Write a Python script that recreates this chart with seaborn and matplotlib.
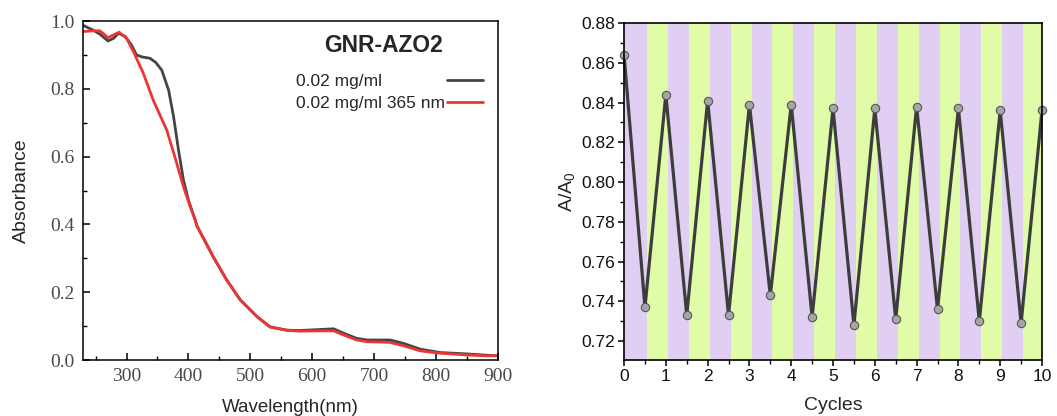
import numpy as np
import pandas as pd
import matplotlib
matplotlib.use("Agg")
import matplotlib.pyplot as plt
from matplotlib.ticker import MultipleLocator, FormatStrFormatter
import seaborn as sns

# --- UV-vis spectra of GNR-AZO2 (0.02 mg/ml), before and after 365 nm irradiation ---
wl_dark = [230, 246, 257, 270, 279, 287, 298, 308, 316, 325, 338, 347, 357, 368,
           376, 384, 392, 400, 411, 414, 440, 462, 484, 511, 532, 559, 580, 613,
           635, 651, 672, 689, 726, 748, 775, 807, 850, 900]
abs_dark = [0.987, 0.973, 0.961, 0.941, 0.949, 0.964, 0.954, 0.929, 0.900, 0.894,
            0.890, 0.878, 0.855, 0.796, 0.718, 0.619, 0.531, 0.472, 0.413, 0.395,
            0.305, 0.236, 0.177, 0.128, 0.098, 0.088, 0.087, 0.090, 0.092, 0.079,
            0.064, 0.059, 0.059, 0.049, 0.032, 0.022, 0.018, 0.012]

wl_uv = [230, 246, 257, 270, 288, 300, 311, 327, 343, 365, 378, 392, 403, 411,
         414, 440, 462, 484, 511, 532, 559, 580, 613, 635, 651, 672, 689, 726,
         748, 775, 807, 850, 883, 900]
abs_uv = [0.969, 0.971, 0.971, 0.951, 0.967, 0.949, 0.910, 0.846, 0.767, 0.678,
          0.600, 0.511, 0.452, 0.413, 0.395, 0.305, 0.236, 0.177, 0.128, 0.097,
          0.088, 0.085, 0.086, 0.086, 0.074, 0.059, 0.054, 0.052, 0.042, 0.027,
          0.020, 0.015, 0.012, 0.013]

series_names = ["0.02 mg/ml", "0.02 mg/ml 365 nm"]
series_colors = ["#444444", "#ee3535"]

# --- switching cycles: A/A0 after alternating irradiation ---
cycles = [0, 0.5, 1, 1.5, 2, 2.5, 3, 3.5, 4, 4.5, 5, 5.5, 6, 6.5, 7, 7.5, 8, 8.5,
          9, 9.5, 10]
ratio = [0.864, 0.737, 0.844, 0.733, 0.841, 0.733, 0.839, 0.743, 0.839, 0.732,
         0.837, 0.728, 0.837, 0.731, 0.838, 0.736, 0.837, 0.730, 0.836, 0.729,
         0.836]
stripe_edges = [0, 0.55, 1.05, 1.55, 2.05, 2.55, 3.05, 3.55, 4.05, 4.55, 5.05,
                5.55, 6.05, 6.55, 7.05, 7.55, 8.05, 8.55, 9.05, 9.55, 10]
stripe_colors = ["#e0cff2", "#e0fca8"]

sns.set_theme(style="ticks")
plt.rcParams["font.family"] = ["Liberation Sans", "DejaVu Sans"]
plt.rcParams["mathtext.fontset"] = "custom"
plt.rcParams["mathtext.rm"] = "Liberation Sans"
plt.rcParams["mathtext.it"] = "Liberation Sans"
plt.rcParams["mathtext.default"] = "regular"

fig = plt.figure(figsize=(10.57, 4.16), dpi=100)
ax1 = fig.add_axes([0.0788, 0.1346, 0.3919, 0.8149])
ax2 = fig.add_axes([0.5904, 0.1346, 0.3954, 0.8101])

# ---------------- left: spectra ----------------
spec = pd.concat([
    pd.DataFrame({"Wavelength": wl_dark, "Absorbance": abs_dark, "Sample": series_names[0]}),
    pd.DataFrame({"Wavelength": wl_uv, "Absorbance": abs_uv, "Sample": series_names[1]}),
])
sns.lineplot(data=spec, x="Wavelength", y="Absorbance", hue="Sample",
             palette=series_colors, linewidth=2.0, ax=ax1, sort=False, legend=False)
ax1.set_xlim(230, 900)
ax1.set_ylim(0, 1.0)
ax1.xaxis.set_major_locator(MultipleLocator(100))
ax1.xaxis.set_minor_locator(MultipleLocator(50))
ax1.yaxis.set_major_locator(MultipleLocator(0.2))
ax1.yaxis.set_minor_locator(MultipleLocator(0.1))
ax1.yaxis.set_major_formatter(FormatStrFormatter("%.1f"))
ax1.tick_params(axis="both", which="major", direction="in", length=5, width=1.1,
                color="black", labelsize=14, labelcolor="#4a4a4a", pad=6)
ax1.tick_params(axis="both", which="minor", direction="in", length=3, width=1.0,
                color="black")
for lab in ax1.get_xticklabels() + ax1.get_yticklabels():
    lab.set_fontfamily(["Liberation Serif", "DejaVu Serif"])
for sp in ax1.spines.values():
    sp.set_color("black")
    sp.set_linewidth(1.1)
    sp.set_visible(True)
ax1.set_xlabel("Wavelength(nm)", fontsize=13.5, labelpad=10)
ax1.set_ylabel("Absorbance", fontsize=14, labelpad=15)
ax1.text(0.724, 0.929, "GNR-AZO2", transform=ax1.transAxes, ha="center", va="center",
         fontsize=16.5, fontweight="bold")

# legend: labels in a left-aligned column, line samples in a column to their right
lines = ax1.get_lines()[:2]
leg_text = ax1.legend(lines, series_names, loc="upper left", bbox_to_anchor=(0.514, 0.843),
                      frameon=False, fontsize=12.5, handlelength=0, handletextpad=0,
                      labelspacing=0.36, borderpad=0, borderaxespad=0)
for h in leg_text.legend_handles:
    h.set_visible(False)
ax1.add_artist(leg_text)
ax1.legend(lines, ["", ""], loc="upper right", bbox_to_anchor=(0.966, 0.843),
           frameon=False, fontsize=12.5, handlelength=2.1, handletextpad=0,
           labelspacing=0.36, borderpad=0, borderaxespad=0)

# ---------------- right: cycling ----------------
for i in range(len(stripe_edges) - 1):
    ax2.axvspan(stripe_edges[i], stripe_edges[i + 1], color=stripe_colors[i % 2],
                lw=0, zorder=0)
cyc = pd.DataFrame({"Cycles": cycles, "Ratio": ratio})
sns.lineplot(data=cyc, x="Cycles", y="Ratio", color="#3d3d3d", linewidth=2.3,
             marker="o", markersize=6, markerfacecolor="#a5a5a5",
             markeredgecolor="#555555", markeredgewidth=0.8, ax=ax2, sort=False,
             zorder=3, clip_on=False)
ax2.set_xlim(0, 10)
ax2.set_ylim(0.7105, 0.88)
ax2.xaxis.set_major_locator(MultipleLocator(1))
ax2.xaxis.set_minor_locator(MultipleLocator(0.5))
ax2.yaxis.set_major_locator(MultipleLocator(0.02))
ax2.yaxis.set_minor_locator(MultipleLocator(0.01))
ax2.yaxis.set_major_formatter(FormatStrFormatter("%.2f"))
ax2.tick_params(axis="both", which="major", direction="out", length=4, width=1.1,
                color="black", labelsize=12.5, labelcolor="#111111", pad=2.5)
ax2.tick_params(axis="both", which="minor", direction="out", length=3, width=1.0,
                color="black")
for sp in ax2.spines.values():
    sp.set_color("black")
    sp.set_linewidth(1.2)
    sp.set_visible(True)
    sp.set_zorder(5)
ax2.set_xlabel("Cycles", fontsize=14, labelpad=9)
ax2.set_ylabel("A/A$_0$", fontsize=14, labelpad=3)

fig.savefig("out.png", dpi=100)
